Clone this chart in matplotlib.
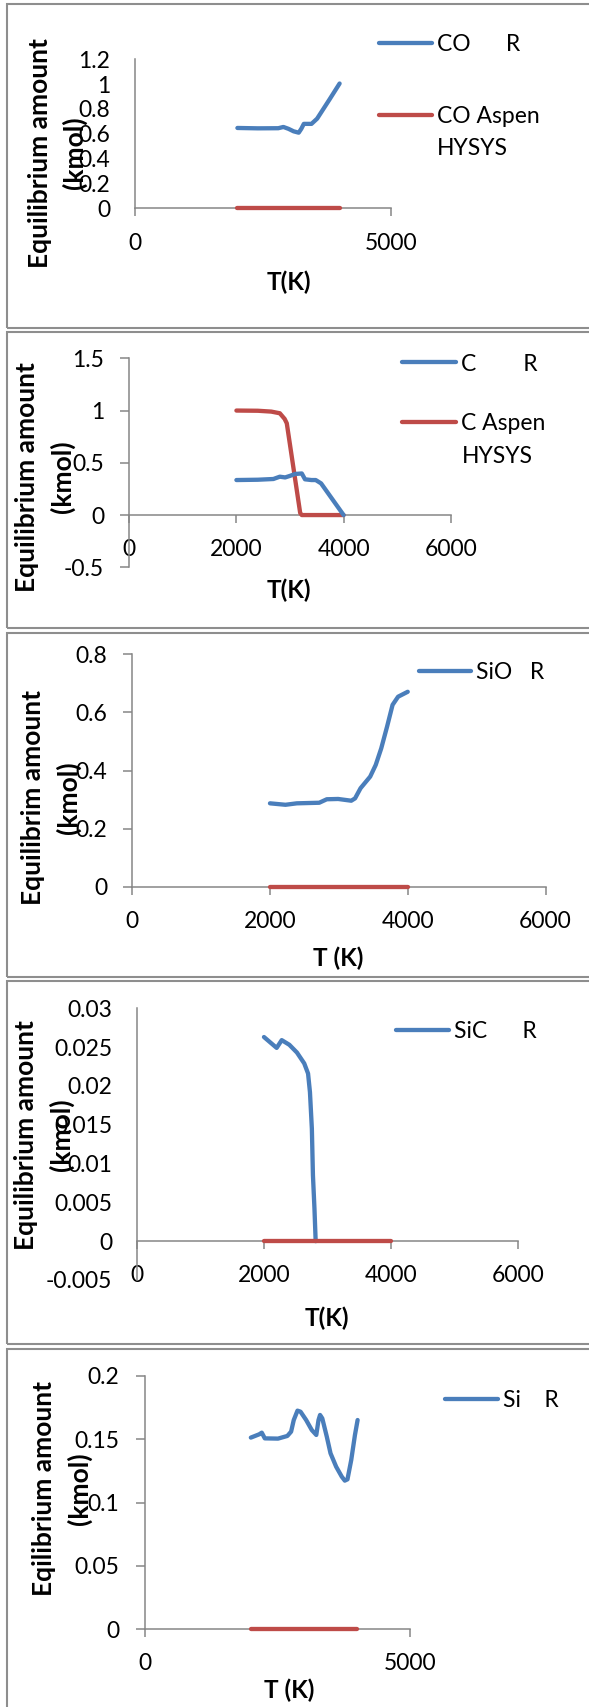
import matplotlib
matplotlib.use("Agg")
import matplotlib.pyplot as plt
from matplotlib.lines import Line2D
from matplotlib.patches import Rectangle

plt.rcParams['font.family'] = ['Lato', 'DejaVu Sans']

# ---------------- data ----------------
# CO
co_T = [2000, 2400, 2800, 2900, 3000, 3100, 3200, 3250, 3300, 3450, 3560, 3800, 4000]
co_r = [0.647, 0.644, 0.645, 0.655, 0.640, 0.620, 0.609, 0.640, 0.680, 0.680, 0.722, 0.875, 1.005]
co_aspen_T = [2000, 2500, 3000, 3500, 4000]
co_aspen = [0, 0, 0, 0, 0]

# C
c_T = [2000, 2400, 2690, 2810, 2910, 3000, 3095, 3220, 3280, 3400, 3480, 3580, 4000]
c_r = [0.335, 0.338, 0.345, 0.367, 0.360, 0.375, 0.393, 0.398, 0.342, 0.335, 0.335, 0.303, 0.0]
c_aspen_T = [2000, 2400, 2650, 2810, 2900, 2940, 3190, 3220, 3600, 4000]
c_aspen = [1.0, 0.998, 0.990, 0.974, 0.920, 0.878, 0.020, 0.0, 0.0, 0.0]

# SiO
sio_T = [2000, 2225, 2390, 2715, 2825, 2990, 3180, 3235, 3315, 3455, 3535, 3615, 3700, 3780, 3860, 4000]
sio_r = [0.287, 0.282, 0.287, 0.289, 0.301, 0.302, 0.296, 0.304, 0.339, 0.379, 0.419, 0.476, 0.551, 0.626, 0.654, 0.671]
sio_aspen_T = [2000, 2500, 3000, 3500, 4000]
sio_aspen = [0, 0, 0, 0, 0]

# SiC
sic_T = [2000, 2200, 2280, 2400, 2520, 2635, 2695, 2725, 2755, 2772, 2796, 2815]
sic_r = [0.0263, 0.0249, 0.0259, 0.0253, 0.0243, 0.0229, 0.0216, 0.0192, 0.0145, 0.0085, 0.0042, 0.0]
sic_aspen_T = [2000, 2500, 3000, 3500, 4000]
sic_aspen = [0, 0, 0, 0, 0]

# Si
si_T = [2000, 2157, 2206, 2263, 2511, 2687, 2758, 2808, 2878, 2935, 3041, 3147, 3232,
        3274, 3303, 3345, 3430, 3500, 3606, 3712, 3769, 3819, 3890, 3960, 4010]
si_r = [0.1513, 0.1539, 0.1552, 0.1507, 0.1505, 0.1526, 0.1560, 0.1652, 0.1726, 0.1718,
        0.1652, 0.1573, 0.1534, 0.1652, 0.1692, 0.1665, 0.1520, 0.1389, 0.1283, 0.1204,
        0.1173, 0.1183, 0.1336, 0.1534, 0.1652]
si_aspen_T = [2000, 2500, 3000, 3500, 4000]
si_aspen = [0, 0, 0, 0, 0]

# tick values / labels
ticks_5000 = [0, 5000]
ticks_6000 = [0, 2000, 4000, 6000]
co_yticks = [0, 0.2, 0.4, 0.6, 0.8, 1.0, 1.2]
co_ylabels = ['0', '0.2', '0.4', '0.6', '0.8', '1', '1.2']
c_yticks = [-0.5, 0, 0.5, 1.0, 1.5]
c_ylabels = ['-0.5', '0', '0.5', '1', '1.5']
sio_yticks = [0, 0.2, 0.4, 0.6, 0.8]
sio_ylabels = ['0', '0.2', '0.4', '0.6', '0.8']
sic_yticks = [-0.005, 0, 0.005, 0.01, 0.015, 0.02, 0.025, 0.03]
sic_ylabels = ['-0.005', '0', '0.005', '0.01', '0.015', '0.02', '0.025', '0.03']
si_yticks = [0, 0.05, 0.1, 0.15, 0.2]
si_ylabels = ['0', '0.05', '0.1', '0.15', '0.2']

# ---------------- styling ----------------
W, H = 589, 1707
BLUE = '#4A7EBB'
RED = '#BE4B48'
AXIS_GREY = '#868686'
FRAME_GREY = '#8E8E8E'
TICK_FS = 16.5
YLABEL_FS = 19
XLABEL_FS = 17.5
LW = 3.1
LEG_SPACING = 32          # px between legend text lines

fig = plt.figure(figsize=(W / 100, H / 100), dpi=100)
fig.patch.set_facecolor('white')


def fx(x):
    return x / W


def fy(y):
    return 1 - y / H


def frame(top, bottom):
    fig.add_artist(Rectangle((fx(7), fy(bottom)), (W + 20) / W, (bottom - top) / H,
                             fill=False, edgecolor=FRAME_GREY, linewidth=1.5,
                             transform=fig.transFigure, clip_on=False))


def make_axes(left, right, top, bottom, xlim, ylim, xticks, yticks, ylabels, ytick_len):
    ax = fig.add_axes([fx(left), fy(bottom), (right - left) / W, (bottom - top) / H])
    ax.patch.set_visible(False)
    ax.set_xlim(*xlim)
    ax.set_ylim(*ylim)
    for s in ('top', 'right'):
        ax.spines[s].set_visible(False)
    for s in ('left', 'bottom'):
        ax.spines[s].set_color(AXIS_GREY)
        ax.spines[s].set_linewidth(1.1)
    ax.spines['bottom'].set_position(('data', 0))
    ax.set_xticks(xticks)
    ax.set_xticklabels([str(t) for t in xticks])
    ax.set_yticks(yticks)
    ax.set_yticklabels(ylabels)
    ax.tick_params(axis='x', direction='out', length=6, width=1.1, color=AXIS_GREY,
                   pad=11.5, labelsize=TICK_FS)
    ax.tick_params(axis='y', direction='out', length=ytick_len, width=1.1, color=AXIS_GREY,
                   pad=18 - ytick_len, labelsize=TICK_FS)
    return ax


def legend_entry(x0, x1, y, color, text):
    fig.add_artist(Line2D([fx(x0), fx(x1)], [fy(y), fy(y)], color=color, lw=LW,
                          solid_capstyle='round', transform=fig.transFigure))
    n_extra = text.count('\n')
    fs_px = TICK_FS * 100 / 72
    spacing = LEG_SPACING / (0.84 * fs_px)
    # baseline of the last line; the first line sits level with the key line
    base = y + 0.36 * fs_px + n_extra * LEG_SPACING
    fig.text(fx(x1 + 5), fy(base), text, fontsize=TICK_FS, va='baseline', ha='left',
             linespacing=spacing)


def ylabel(x, y, text):
    fig.text(fx(x), fy(y), text, rotation=90, ha='center', va='center',
             multialignment='center', fontsize=YLABEL_FS, fontweight='bold',
             linespacing=1.48)


def xlabel(x, y, text):
    fig.text(fx(x), fy(y), text, ha='center', va='center', fontsize=XLABEL_FS,
             fontweight='bold')


def plot(ax, T, v, color):
    ax.plot(T, v, color=color, lw=LW, solid_capstyle='round', solid_joinstyle='round',
            clip_on=False, zorder=3)


# panel frames
frame(4, 328)
frame(332, 628)
frame(633, 977)
frame(981, 1344)
frame(1349, 1730)

# CO
ax1 = make_axes(135.2, 390.7, 59.3, 208.3, (0, 5000), (0, 1.2), ticks_5000, co_yticks, co_ylabels, 0)
plot(ax1, co_T, co_r, BLUE)
plot(ax1, co_aspen_T, co_aspen, RED)
legend_entry(379.4, 432, 42.7, BLUE, 'CO' + ' ' * 6 + 'R')
legend_entry(379.4, 432, 115, RED, 'CO Aspen\nHYSYS')
ylabel(57.3, 153, 'Equilibrium amount\n(kmol)')
xlabel(289.3, 282, 'T(K)')

# C
ax2 = make_axes(129.2, 450.8, 358.3, 567.3, (0, 6000), (-0.5, 1.5), ticks_6000, c_yticks, c_ylabels, 6.5)
plot(ax2, c_aspen_T, c_aspen, RED)
plot(ax2, c_T, c_r, BLUE)
legend_entry(402, 456.4, 362.3, BLUE, 'C' + ' ' * 8 + 'R')
legend_entry(402, 456.4, 422.3, RED, 'C Aspen\nHYSYS')
ylabel(45.1, 476.7, 'Equilibrium amount\n(kmol)')
xlabel(289.3, 590, 'T(K)')

# SiO
ax3 = make_axes(132.2, 545.5, 654.3, 886.7, (0, 6000), (0, 0.8), ticks_6000, sio_yticks, sio_ylabels, 6.5)
plot(ax3, sio_T, sio_r, BLUE)
plot(ax3, sio_aspen_T, sio_aspen, RED)
legend_entry(418.9, 471.5, 671, BLUE, 'SiO' + ' ' * 3 + 'R')
ylabel(51.1, 797.5, 'Equilibrim amount\n(kmol)')
xlabel(338.1, 958.3, 'T (K)')

# SiC
ax4 = make_axes(137.1, 517.7, 1008.3, 1280, (0, 6000), (-0.005, 0.03), ticks_6000, sic_yticks, sic_ylabels, 0)
plot(ax4, sic_T, sic_r, BLUE)
plot(ax4, sic_aspen_T, sic_aspen, RED)
legend_entry(396.3, 448.9, 1030, BLUE, 'SiC' + ' ' * 6 + 'R')
ylabel(44.2, 1135, 'Equilibrium amount\n(kmol)')
xlabel(326.8, 1318, 'T(K)')

# Si
ax5 = make_axes(144.6, 410.2, 1376, 1629, (0, 5000), (0, 0.2), ticks_5000, si_yticks, si_ylabels, 6.5)
plot(ax5, si_T, si_r, BLUE)
plot(ax5, si_aspen_T, si_aspen, RED)
legend_entry(445.2, 497.7, 1398.7, BLUE, 'Si' + ' ' * 4 + 'R')
ylabel(62, 1489, 'Eqilibrium amount\n(kmol)')
xlabel(289.3, 1690, 'T (K)')

fig.savefig('out.png', dpi=100, facecolor='white')
